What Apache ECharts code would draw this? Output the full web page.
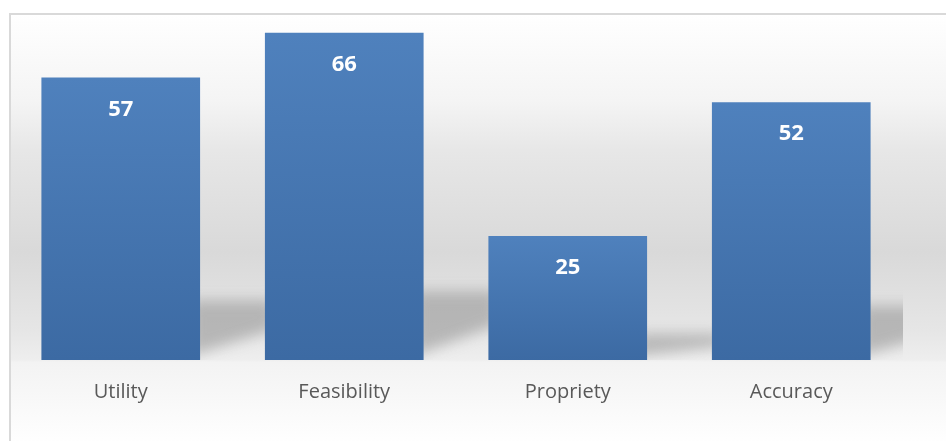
<!DOCTYPE html>
<html>
<head>
<meta charset="utf-8">
<script src="https://cdn.jsdelivr.net/npm/echarts@6/dist/echarts.min.js"></script>
<style>
html,body{margin:0;padding:0;background:#fff;}
#chart{width:946px;height:441px;}
</style>
</head>
<body>
<div id="chart"></div>
<script>
const categories = ['Utility', 'Feasibility', 'Propriety', 'Accuracy'];
const values = [57, 66, 25, 52];

const chart = echarts.init(document.getElementById('chart'), null, {renderer: 'canvas'});
const OFF = 3000;

const option = {
  backgroundColor: '#ffffff',
  animation: false,
  graphic: [{
    type: 'rect',
    z: -10,
    silent: true,
    shape: {x: 10, y: 14, width: 950, height: 440},
    style: {
      stroke: '#d9d9d9',
      lineWidth: 2,
      fill: {
        type: 'linear', x: 0, y: 0, x2: 0, y2: 1,
        colorStops: [
          {offset: 0, color: '#ffffff'},
          {offset: 0.2, color: '#f4f4f4'},
          {offset: 0.31, color: '#e7e7e7'},
          {offset: 0.54, color: '#d9d9d9'},
          {offset: 0.72, color: '#e6e6e6'},
          {offset: 0.785, color: '#eeeeee'},
          {offset: 0.79, color: '#f3f3f3'},
          {offset: 0.98, color: '#ffffff'},
          {offset: 1, color: '#ffffff'}
        ]
      }
    }
  }],
  grid: {left: 9, right: 43, top: 13, bottom: 81, containLabel: false},
  xAxis: {
    type: 'category',
    data: categories,
    axisLine: {show: false},
    axisTick: {show: false},
    axisLabel: {
      color: '#595959',
      fontFamily: 'Open Sans',
      fontSize: 20,
      margin: 22
    }
  },
  yAxis: {
    type: 'value',
    min: 0,
    max: 70,
    show: false,
    splitLine: {show: false}
  },
  series: [{
    type: 'custom',
    z: 1,
    silent: true,
    clip: true,
    data: values.map((v, i) => [i, v]),
    renderItem: function (params, api) {
      const i = api.value(0), v = api.value(1);
      const c = api.coord([i, 0]);
      const catW = api.size([1, 0])[0];
      const bw = catW * 0.71;
      const xr = c[0] + bw / 2;
      const base = c[1];
      const ys = api.coord([i, v * 0.24])[1];
      const h = base - ys;
      const dx = catW * 0.33;
      const pts = [
        [xr - 10 - OFF, ys + h * 0.12],
        [xr + dx - OFF, ys + h * 0.12],
        [xr + dx - OFF, ys + h * 0.55],
        [xr - 10 - OFF, base - 4]
      ];
      return {
        type: 'polygon',
        shape: {points: pts},
        style: {
          fill: 'rgba(120,120,120,1)',
          shadowColor: 'rgba(150,150,150,0.6)',
          shadowBlur: 14,
          shadowOffsetX: OFF,
          shadowOffsetY: 0
        }
      };
    }
  }, {
    type: 'bar',
    z: 2,
    data: values,
    barCategoryGap: '29%',
    itemStyle: {
      color: {
        type: 'linear', x: 0, y: 0, x2: 0, y2: 1,
        colorStops: [
          {offset: 0, color: '#4f81bd'},
          {offset: 1, color: '#3c6aa3'}
        ]
      }
    },
    label: {
      show: true,
      position: 'insideTop',
      distance: 21,
      color: '#ffffff',
      fontFamily: 'Open Sans',
      fontWeight: 'bold',
      fontSize: 22
    }
  }]
};
chart.setOption(option);
</script>
</body>
</html>
